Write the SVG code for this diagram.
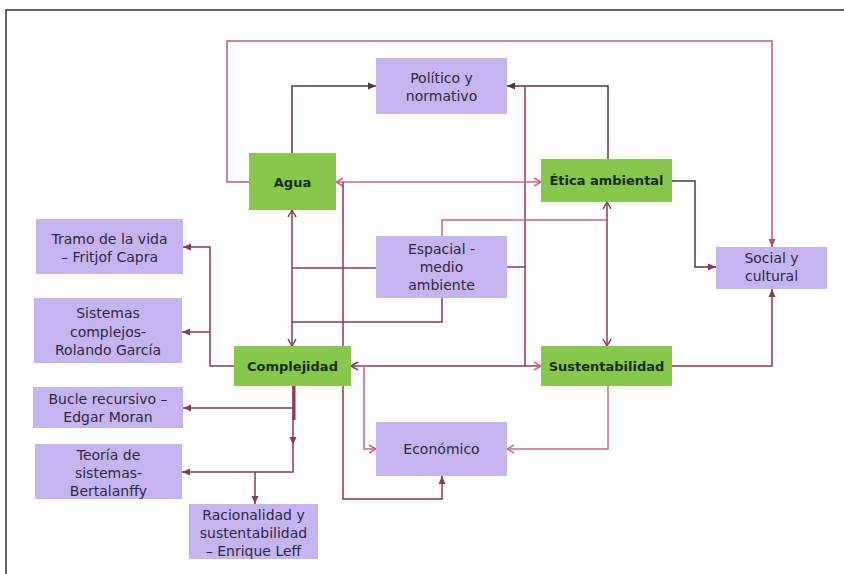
<svg xmlns="http://www.w3.org/2000/svg" width="844" height="574" viewBox="0 0 844 574">
<defs>
<style>
.g{fill:#85c84b}
.p{fill:#c6b4f0}
.tg{font-family:"DejaVu Sans",sans-serif;font-size:13px;font-weight:bold;fill:#1c2a14;text-anchor:middle}
.tp{font-family:"DejaVu Sans",sans-serif;font-size:14px;fill:#2e2742;text-anchor:middle}
.c{fill:none;stroke-width:1.5}
.dk{stroke:#5a3344}
.mr{stroke:#8e3858}
.pk{stroke:#cf6488}
</style>
<marker id="fdk" markerUnits="userSpaceOnUse" markerWidth="9" markerHeight="8" refX="8" refY="4" orient="auto-start-reverse"><path d="M0,0.5 L8,4 L0,7.5 z" fill="#5a3344"/></marker>
<marker id="fmr" markerUnits="userSpaceOnUse" markerWidth="9" markerHeight="8" refX="8" refY="4" orient="auto-start-reverse"><path d="M0,0.5 L8,4 L0,7.5 z" fill="#8e3858"/></marker>
<marker id="fpk" markerUnits="userSpaceOnUse" markerWidth="9" markerHeight="8" refX="8" refY="4" orient="auto-start-reverse"><path d="M0,0.5 L8,4 L0,7.5 z" fill="#b44c72"/></marker>
<marker id="opk" markerUnits="userSpaceOnUse" markerWidth="10" markerHeight="10" refX="8" refY="5" orient="auto-start-reverse"><path d="M1,1 L8,5 L1,9" fill="none" stroke="#cf6488" stroke-width="1.5"/></marker>
<marker id="omr" markerUnits="userSpaceOnUse" markerWidth="10" markerHeight="10" refX="8" refY="5" orient="auto-start-reverse"><path d="M1,1 L8,5 L1,9" fill="none" stroke="#8e3858" stroke-width="1.5"/></marker>
</defs>
<rect width="844" height="574" fill="#fff"/>
<rect x="6" y="10" width="860" height="590" fill="none" stroke="#333" stroke-width="1.5"/>

<g id="connectors">
<path class="c" d="M249,182 H227 V41 H772 V247" stroke="#c0587c" marker-end="url(#fpk)"/>
<path class="c dk" d="M292,153 V86 H376" marker-end="url(#fdk)"/>
<path class="c dk" d="M608,159 V86 H507" marker-end="url(#fdk)"/>
<path class="c mr" d="M525,86 V366"/>
<path class="c pk" d="M336,182 H541" marker-start="url(#opk)" marker-end="url(#opk)"/>
<path class="c mr" d="M343,182 V499 H442 V476" marker-end="url(#fmr)"/>
<path class="c mr" d="M292,210 V346" marker-start="url(#omr)" marker-end="url(#omr)"/>
<path class="c mr" d="M376,268 H292"/>
<path class="c mr" d="M442,298 V322 H292"/>
<path class="c pk" d="M442,236 V220 H607"/>
<path class="c mr" d="M507,267 H525"/>
<path class="c mr" d="M607,202 V346" marker-start="url(#omr)" marker-end="url(#omr)"/>
<path class="c mr" d="M351,366 H541" marker-start="url(#omr)" marker-end="url(#opk)"/>
<path class="c pk" d="M364,366 V449 H376" marker-end="url(#opk)"/>
<path class="c pk" d="M608,386 V449 H507" marker-end="url(#opk)"/>
<path class="c mr" d="M672,366 H772 V289" marker-end="url(#fmr)"/>
<path class="c dk" d="M672,181 H695 V267 H716" marker-end="url(#fmr)"/>
<path class="c mr" d="M234,366 H210 V247 H183" marker-end="url(#fmr)"/>
<path class="c mr" d="M210,332 H182" marker-end="url(#fmr)"/>
<path class="c mr" d="M293,386 V445" marker-end="url(#fmr)"/>
<path class="c mr" d="M293,445 V472 H182" marker-end="url(#fmr)"/>
<path class="c mr" d="M293,408 H183" marker-end="url(#fmr)"/>
<path class="c mr" d="M255,472 V504" marker-end="url(#fmr)"/>
<path d="M294,386 V420" stroke="#8e3858" stroke-width="3"/>
</g>

<g id="politico"><rect class="p" x="376" y="58" width="131" height="56"/><text class="tp" x="441.5" y="82.5">Político y</text><text class="tp" x="441.5" y="101">normativo</text></g>
<g id="agua"><rect class="g" x="249" y="153" width="87" height="57"/><text class="tg" x="292.5" y="186.5">Agua</text></g>
<g id="etica"><rect class="g" x="541" y="159" width="131" height="43"/><text class="tg" x="606.5" y="185">Ética ambiental</text></g>
<g id="espacial"><rect class="p" x="376" y="236" width="131" height="62"/><text class="tp" x="441.5" y="253.5">Espacial -</text><text class="tp" x="441.5" y="272">medio</text><text class="tp" x="441.5" y="289.5">ambiente</text></g>
<g id="social"><rect class="p" x="716" y="247" width="111" height="42"/><text class="tp" x="771.5" y="262.5">Social y</text><text class="tp" x="771.5" y="280.5">cultural</text></g>
<g id="tramo"><rect class="p" x="36" y="219" width="147" height="55"/><text class="tp" x="109.5" y="243.5">Tramo de la vida</text><text class="tp" x="109.5" y="262">– Fritjof Capra</text></g>
<g id="sistemas"><rect class="p" x="34" y="298" width="148" height="65"/><text class="tp" x="108" y="317.5">Sistemas</text><text class="tp" x="108" y="336.5">complejos-</text><text class="tp" x="108" y="355">Rolando García</text></g>
<g id="complejidad"><rect class="g" x="234" y="346" width="117" height="40"/><text class="tg" x="292.5" y="370.5">Complejidad</text></g>
<g id="sustentabilidad"><rect class="g" x="541" y="346" width="131" height="40"/><text class="tg" x="606.5" y="370.5">Sustentabilidad</text></g>
<g id="economico"><rect class="p" x="376" y="422" width="131" height="54"/><text class="tp" x="441.5" y="454">Económico</text></g>
<g id="bucle"><rect class="p" x="33" y="387" width="150" height="41"/><text class="tp" x="108" y="403.5">Bucle recursivo –</text><text class="tp" x="108" y="422">Edgar Moran</text></g>
<g id="teoria"><rect class="p" x="35" y="444" width="147" height="55"/><text class="tp" x="108.5" y="460">Teoría de</text><text class="tp" x="108.5" y="478">sistemas-</text><text class="tp" x="108.5" y="495.5">Bertalanffy</text></g>
<g id="racionalidad"><rect class="p" x="189" y="504" width="129" height="55"/><text class="tp" x="253.5" y="520">Racionalidad y</text><text class="tp" x="253.5" y="538">sustentabilidad</text><text class="tp" x="253.5" y="556">– Enrique Leff</text></g>
</svg>
